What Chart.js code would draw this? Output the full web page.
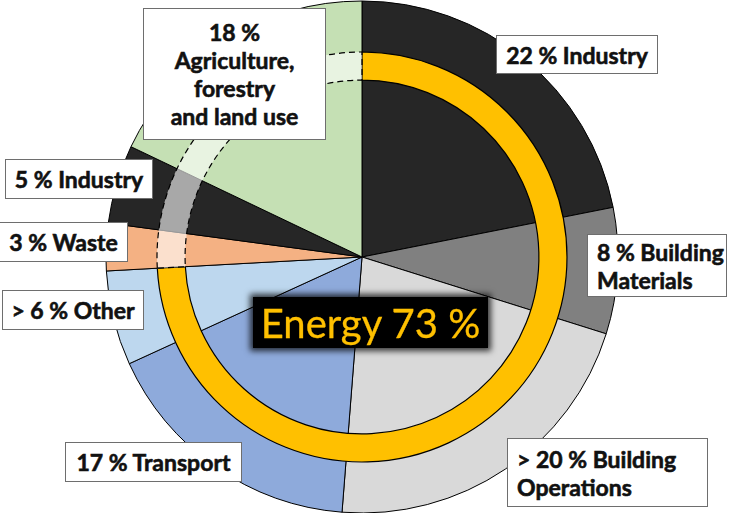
<!DOCTYPE html>
<html>
<head>
<meta charset="utf-8">
<script src="https://cdn.jsdelivr.net/npm/chart.js@4.4.1/dist/chart.umd.min.js"></script>
<style>
  body { margin: 0; background: #fff; }
  #wrap { position: relative; width: 750px; height: 513px; overflow: hidden; }
  #wrap canvas { position: absolute; left: 0; top: 0; }
  .lbl {
    position: absolute; box-sizing: border-box; background: #fff;
    border: 1px solid #6e6e6e; font-family: Lato, "Open Sans", sans-serif;
    font-weight: 700; font-size: 23px; color: #111; line-height: 28px;
    -webkit-text-stroke: 0.6px #111;
    white-space: nowrap;
    display: flex; align-items: center; justify-content: center; text-align: center;
  }
  .lbl.left { justify-content: flex-start; text-align: left; padding-left: 9px; }
  #energy {
    position: absolute; left: 253px; top: 297px; width: 235px; height: 51px;
    background: #000; box-shadow: 0 0 6px 3px rgba(0,0,0,0.75);
    color: #ffc000; font-family: Lato, "Open Sans", sans-serif; font-size: 40px;
    -webkit-text-stroke: 0.3px #ffc000;
    display: flex; align-items: center; justify-content: center;
  }
</style>
</head>
<body>
<div id="wrap">
  <canvas id="pieChart" width="750" height="513"></canvas>
  <canvas id="ringChart" width="750" height="513"></canvas>
  <div class="lbl" style="left:496px;top:35px;width:162px;height:39px;">22 % Industry</div>
  <div class="lbl left" style="left:587px;top:234px;width:140px;height:63px;">8 % Building<br>Materials</div>
  <div class="lbl left" style="left:507px;top:438px;width:201px;height:69px;">&gt; 20 % Building<br>Operations</div>
  <div class="lbl" style="left:65px;top:442px;width:177px;height:40px;">17 % Transport</div>
  <div class="lbl" style="left:2px;top:290px;width:142px;height:40px;">&gt; 6 % Other</div>
  <div class="lbl" style="left:-1px;top:222px;width:129px;height:40px;">3 % Waste</div>
  <div class="lbl" style="left:5px;top:159px;width:148px;height:40px;">5 % Industry</div>
  <div class="lbl" style="left:143px;top:8px;width:183px;height:132px;">18 %<br>Agriculture,<br>forestry<br>and land use</div>
  <div id="energy">Energy 73 %</div>
</div>
<script>
// sectors, clockwise from 12 o'clock
const sectors = ["Industry", "Building Materials", "Building Operations", "Transport",
  "Other", "Waste", "Industry (non-energy)", "Agriculture, forestry and land use"];
const shares = [22, 8, 21.5, 17, 6, 3, 5, 18];
const sectorColors = ["#262626", "#808080", "#d9d9d9", "#8eaadb",
  "#bdd7ee", "#f4b183", "#262626", "#c5e0b4"];
// first five sectors make up energy
const energyCount = 5;

const energyShare = shares.slice(0, energyCount).reduce((a, b) => a + b, 0);
const otherShare = shares.slice(energyCount).reduce((a, b) => a + b, 0);

const baseOptions = {
  responsive: false,
  animation: false,
  layout: { padding: { left: 0, right: 26, top: 1, bottom: 0 } },
  plugins: { legend: { display: false }, tooltip: { enabled: false } },
};

// 1) Main pie
new Chart(document.getElementById("pieChart").getContext("2d"), {
  type: "pie",
  data: {
    labels: sectors,
    datasets: [
      {
        data: shares,
        backgroundColor: sectorColors,
        borderColor: "#000",
        borderWidth: 1,
      },
    ],
  },
  options: Object.assign({}, baseOptions, { radius: 256 }),
});

// 2) Energy ring on top
new Chart(document.getElementById("ringChart").getContext("2d"), {
  type: "doughnut",
  data: {
    labels: ["Energy", "Non-energy"],
    datasets: [
      {
        data: [energyShare, otherShare],
        backgroundColor: ["#ffc000", "rgba(255,255,255,0.6)"],
        borderColor: "#000",
        borderWidth: 1.2,
        borderDash: (ctx) => (ctx.dataIndex === 1 ? [6, 4] : []),
      },
    ],
  },
  options: Object.assign({}, baseOptions, { radius: 205, cutout: "86.3%" }),
});
</script>
</body>
</html>
